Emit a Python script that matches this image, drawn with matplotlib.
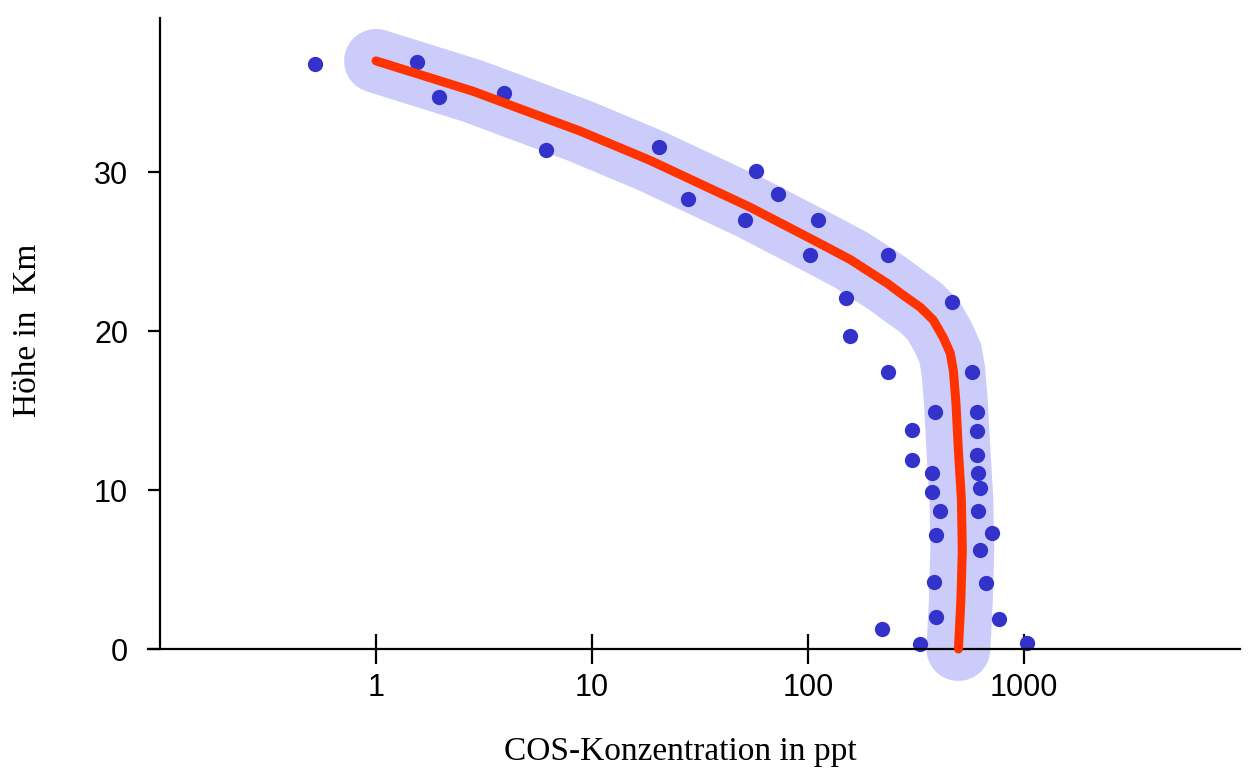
import matplotlib.pyplot as plt
import numpy as np

# measured COS values (ppt) and heights (km)
cos_ppt = [0.52, 1.55, 1.96, 3.93, 6.15, 20.4, 27.7, 57.4, 72.6, 51, 111, 102, 235,
           150, 466, 157, 235, 577, 388, 608, 304, 603, 304, 603, 376, 615, 376, 628,
           410, 615, 393, 714, 628, 384, 670, 393, 769, 220, 331, 1028]
hoehe_km = [36.8, 36.9, 34.7, 35.0, 31.4, 31.6, 28.3, 30.1, 28.6, 27.0, 27.0, 24.8, 24.8,
            22.1, 21.8, 19.7, 17.4, 17.4, 14.9, 14.9, 13.8, 13.7, 11.9, 12.2, 11.1, 11.1,
            9.9, 10.1, 8.7, 8.7, 7.2, 7.3, 6.2, 4.2, 4.15, 2.0, 1.9, 1.26, 0.3, 0.4]

# fitted profile
fit_ppt = [1.0, 2.8, 6.35, 8.75, 18.5, 53.8, 114, 157, 233, 276, 331, 380, 423, 456,
           471, 484, 497, 513, 518, 510, 497]
fit_km = [37.0, 35.1, 33.3, 32.6, 30.75, 27.8, 25.5, 24.5, 23.0, 22.26, 21.5, 20.7,
          19.6, 18.6, 17.5, 15.5, 12.5, 9.4, 6.2, 3.0, 0.0]

xticks = [1, 10, 100, 1000]
yticks = [0, 10, 20, 30]

fig = plt.figure(figsize=(12.5, 7.71), dpi=100)
ax = fig.add_axes([0.128, 0.1582, 0.864, 0.8185])

# broad band + fit line
ax.plot(fit_ppt, fit_km, color='#ccccfb', lw=46, solid_capstyle='round',
        solid_joinstyle='round', zorder=1, clip_on=False)
ax.plot(cos_ppt, hoehe_km, 'o', color='#3333cc', ms=11, mec='none', zorder=2, clip_on=False)
ax.plot(fit_ppt, fit_km, color='#ff3300', lw=6.5, solid_capstyle='round',
        solid_joinstyle='round', zorder=3, clip_on=False)

ax.set_xscale('log')
ax.set_xlim(0.1, 10000)
ax.set_ylim(0, 39.7)

ax.set_xticks(xticks)
ax.set_xticklabels([str(t) for t in xticks])
ax.minorticks_off()
ax.set_yticks(yticks)

for s in ['top', 'right']:
    ax.spines[s].set_visible(False)
for s in ['left', 'bottom']:
    ax.spines[s].set_linewidth(1.6)
ax.spines['bottom'].set_bounds(0.088, 10000)

ax.tick_params(axis='x', direction='inout', length=21, width=1.6, pad=7,
               labelsize=22, labelfontfamily='Liberation Sans')
ax.tick_params(axis='y', direction='out', length=9, width=1.6, pad=14,
               labelsize=22, labelfontfamily='Liberation Sans')

fig.text(680 / 1250, 1 - 752 / 771, 'COS-Konzentration in ppt', ha='center', va='center',
         fontsize=24, family='Liberation Serif')
fig.text(28 / 1250, 1 - 330 / 771, 'Höhe in  Km', ha='center', va='center', rotation=90,
         fontsize=24, family='Liberation Serif')

fig.savefig('out.png', dpi=100)
